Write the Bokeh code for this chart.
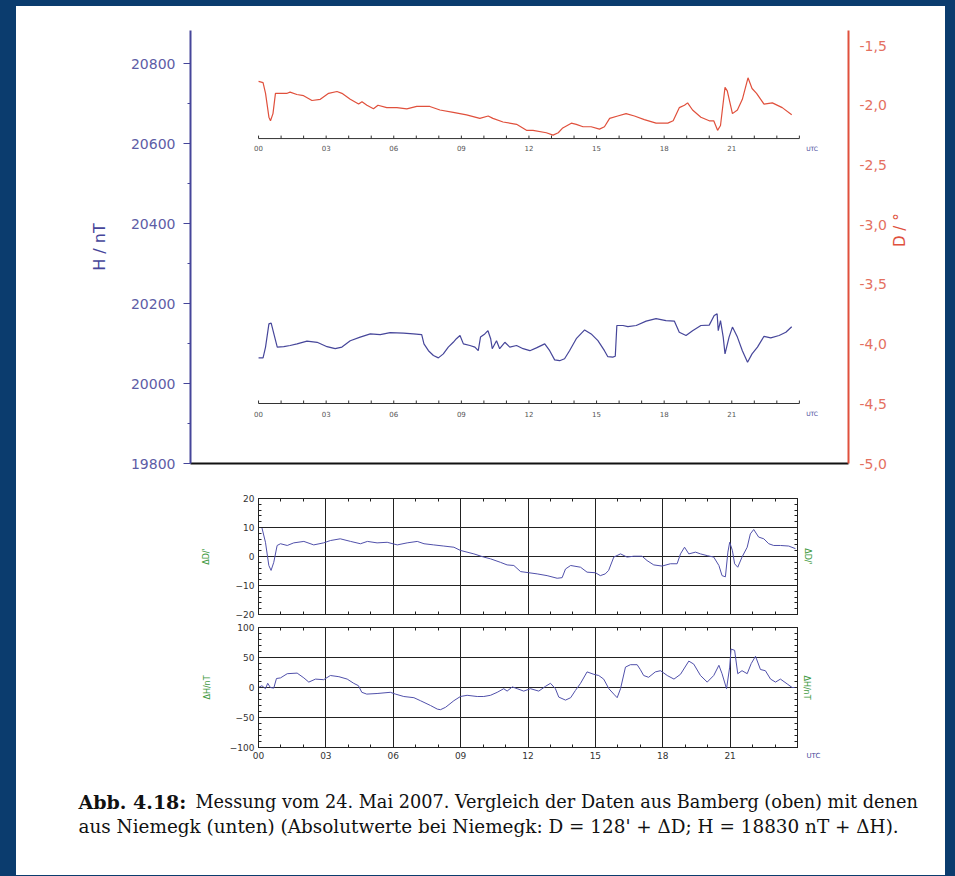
import math
from bokeh.plotting import figure
from bokeh.models import Range1d, LinearAxis, FixedTicker, Spacer
from bokeh.layouts import column, row
from bokeh.embed import file_html
from bokeh.resources import INLINE
from bokeh.core.properties import value

# ---------------- data ----------------
D_HOURS = [0.0, 0.2, 0.31, 0.46, 0.53, 0.64, 0.75, 0.97, 1.27, 1.4, 1.7, 2.0, 2.37, 2.74, 3.11, 3.48, 3.7,
           4.07, 4.44, 4.59, 4.81, 5.1, 5.3, 5.69, 6.14, 6.58, 7.02, 7.6, 8.05, 8.64, 9.23, 9.82, 10.19,
           10.4, 10.85, 11.45, 11.89, 12.18, 12.77, 13.07, 13.3, 13.5, 13.88, 14.1, 14.4, 14.76, 15.13,
           15.35, 15.58, 15.94, 16.31, 16.68, 17.12, 17.64, 18.16, 18.4, 18.67, 18.9, 19.04, 19.26, 19.63,
           20.0, 20.2, 20.37, 20.5, 20.7, 20.8, 21.03, 21.25, 21.47, 21.72, 21.9, 22.1, 22.43, 22.8, 23.24,
           23.66]
D_DEG = [-1.80, -1.81, -1.90, -2.10, -2.13, -2.07, -1.90, -1.90, -1.90, -1.89, -1.91, -1.92, -1.96, -1.95,
         -1.90, -1.885, -1.90, -1.95, -1.99, -1.97, -2.00, -2.03, -2.00, -2.02, -2.02, -2.03, -2.01, -2.01,
         -2.04, -2.06, -2.08, -2.11, -2.09, -2.11, -2.14, -2.16, -2.21, -2.21, -2.23, -2.25, -2.23, -2.19,
         -2.15, -2.16, -2.18, -2.18, -2.20, -2.18, -2.11, -2.09, -2.07, -2.09, -2.12, -2.15, -2.15, -2.13,
         -2.02, -2.00, -1.98, -2.04, -2.10, -2.13, -2.13, -2.21, -2.17, -1.85, -1.88, -2.07, -2.04, -1.95,
         -1.77, -1.86, -1.90, -1.99, -1.98, -2.02, -2.08]

H_HOURS = [0.0, 0.2, 0.31, 0.46, 0.56, 0.68, 0.83, 1.12, 1.4, 1.71, 2.15, 2.6, 3.04, 3.4, 3.7, 4.07, 4.51,
           4.96, 5.4, 5.84, 6.43, 6.87, 7.24, 7.34, 7.54, 7.76, 7.98, 8.2, 8.42, 8.64, 8.78, 8.94, 9.09,
           9.38, 9.6, 9.75, 9.85, 10.04, 10.18, 10.3, 10.37, 10.56, 10.7, 10.93, 11.15, 11.45, 11.74,
           12.04, 12.33, 12.7, 12.92, 13.14, 13.36, 13.58, 13.8, 14.1, 14.47, 14.76, 15.06, 15.35, 15.5,
           15.72, 15.83, 15.9, 16.17, 16.39, 16.76, 17.2, 17.64, 18.08, 18.45, 18.67, 18.97, 19.26, 19.63,
           20.0, 20.22, 20.35, 20.4, 20.5, 20.62, 20.7, 20.88, 21.03, 21.25, 21.47, 21.7, 21.9, 22.14,
           22.43, 22.73, 23.1, 23.4, 23.66]
H_NT = [20064, 20064, 20091, 20149, 20151, 20124, 20091, 20092, 20095, 20099, 20106, 20103, 20092, 20087,
        20091, 20107, 20116, 20124, 20122, 20127, 20126, 20124, 20122, 20099, 20082, 20070, 20064, 20074,
        20091, 20103, 20112, 20120, 20099, 20095, 20091, 20082, 20116, 20124, 20132, 20112, 20087, 20107,
        20087, 20103, 20091, 20095, 20087, 20082, 20089, 20099, 20082, 20059, 20057, 20062, 20082, 20112,
        20134, 20124, 20107, 20082, 20067, 20066, 20068, 20145, 20145, 20142, 20145, 20156, 20162, 20157,
        20156, 20128, 20120, 20132, 20145, 20146, 20170, 20174, 20132, 20157, 20116, 20074, 20116, 20141,
        20116, 20082, 20053, 20074, 20091, 20118, 20114, 20120, 20128, 20142]

DD_HOURS = [0.0, 0.15, 0.31, 0.46, 0.56, 0.68, 0.83, 0.98, 1.28, 1.57, 2.02, 2.46, 2.9, 3.2, 3.64, 4.1,
            4.54, 4.85, 5.28, 5.73, 6.18, 6.62, 7.07, 7.37, 7.8, 8.25, 8.7, 8.99, 9.59, 10.03, 10.33, 10.77,
            11.07, 11.37, 11.67, 12.04, 12.41, 12.85, 13.3, 13.52, 13.67, 13.9, 14.34, 14.63, 15.0, 15.22,
            15.44, 15.59, 15.82, 16.12, 16.41, 16.71, 17.08, 17.3, 17.6, 17.97, 18.34, 18.64, 18.79, 18.97,
            19.16, 19.46, 19.68, 19.98, 20.27, 20.5, 20.64, 20.79, 20.9, 20.98, 21.1, 21.2, 21.34, 21.53,
            21.76, 21.9, 22.05, 22.27, 22.5, 22.72, 22.94, 23.24, 23.61, 23.91]
DD_MIN = [10.0, 10.0, 4.9, -3.1, -4.8, -2.0, 3.8, 4.4, 3.8, 4.7, 5.2, 4.0, 4.7, 5.5, 6.1, 5.2, 4.4, 5.2,
          4.7, 4.9, 4.0, 4.7, 5.2, 4.4, 4.0, 3.6, 3.2, 2.1, 0.9, -0.2, -0.8, -2.0, -2.9, -3.1, -5.2, -5.6,
          -6.0, -6.6, -7.5, -7.3, -4.3, -3.1, -3.7, -5.4, -5.6, -6.6, -6.0, -4.8, -0.2, 0.9, -0.2, 0.1, 0.1,
          -1.4, -2.9, -3.3, -2.5, -2.5, 0.9, 3.2, 0.9, 1.5, 0.9, 0.3, -0.2, -3.1, -6.6, -7.0, 1.5, 4.9, 2.1,
          -2.5, -3.7, -0.2, 3.2, 7.8, 9.3, 6.7, 6.1, 4.4, 3.8, 3.8, 3.6, 2.7]

DH_HOURS = [0.0, 0.15, 0.31, 0.41, 0.53, 0.68, 0.8, 0.98, 1.28, 1.72, 2.02, 2.24, 2.54, 2.9, 3.2, 3.58,
            3.95, 4.24, 4.45, 4.6, 4.82, 5.28, 5.87, 6.1, 6.47, 6.92, 7.21, 7.66, 7.96, 8.1, 8.33, 8.7, 8.99,
            9.29, 9.74, 10.03, 10.33, 10.63, 10.92, 11.07, 11.3, 11.52, 11.81, 12.11, 12.48, 12.78, 13.0,
            13.22, 13.37, 13.67, 13.9, 14.11, 14.34, 14.63, 14.93, 15.15, 15.37, 15.6, 15.82, 15.97, 16.12,
            16.34, 16.56, 16.86, 17.0, 17.15, 17.37, 17.67, 17.9, 18.2, 18.5, 18.79, 19.16, 19.38, 19.68,
            19.98, 20.27, 20.5, 20.64, 20.84, 20.98, 21.04, 21.2, 21.34, 21.53, 21.76, 21.94, 22.13, 22.35,
            22.57, 22.8, 23.02, 23.24, 23.54, 23.76, 23.99]
DH_NT = [0, 3, -2, 7, 0, -1, 15, 16, 23, 24, 16, 9, 14, 13, 20, 18, 14, 7, 3, -8, -11, -10, -8, -11, -15,
         -17, -22, -30, -36, -37, -33, -22, -15, -13, -15, -15, -13, -8, -2, -6, 1, -2, -6, -2, -6, 2, 7,
         -2, -16, -21, -17, -5, 7, 26, 22, 20, 14, -2, -11, -17, -2, 34, 38, 38, 30, 20, 17, 26, 28, 20, 14,
         22, 44, 39, 20, 9, 20, 37, 23, -2, 34, 64, 62, 23, 28, 23, 40, 52, 30, 28, 14, 9, 14, 6, 0, 0]

H_TICKS = [19800, 20000, 20200, 20400, 20600, 20800]
H_MINOR = [19900, 20100, 20300, 20500, 20700]
D_TICKS = [-5.0, -4.5, -4.0, -3.5, -3.0, -2.5, -2.0, -1.5]
D_LABELS = ["-5,0", "-4,5", "-4,0", "-3,5", "-3,0", "-2,5", "-2,0", "-1,5"]
HOUR_TICKS = [0, 3, 6, 9, 12, 15, 18, 21]
HOUR_LABELS = ["00", "03", "06", "09", "12", "15", "18", "21"]
ALL_HOURS = list(range(25))
DD_TICKS = [-20, -10, 0, 10, 20]
DD_LABELS = ["\u221220", "\u221210", "0", "10", "20"]
DD_MINOR = [-18, -16, -14, -12, -8, -6, -4, -2, 2, 4, 6, 8, 12, 14, 16, 18]
DH_TICKS = [-100, -50, 0, 50, 100]
DH_LABELS = ["\u2212100", "\u221250", "0", "50", "100"]
DH_MINOR = [-90, -80, -70, -60, -40, -30, -20, -10, 10, 20, 30, 40, 60, 70, 80, 90]

CAPTION_BOLD = "Abb. 4.18:"
CAPTION_1 = "Messung vom 24. Mai 2007. Vergleich der Daten aus Bamberg (oben) mit denen"
CAPTION_2 = "aus Niemegk (unten) (Absolutwerte bei Niemegk: D = 128' + \u0394D; H = 18830 nT + \u0394H)."

# ---------------- styles ----------------
SANS = "DejaVu Sans"
SERIF = "DejaVu Serif"
H_COL = "#46469a"
H_LAB = "#5d5da6"
D_COL = "#e0503c"
D_LAB = "#e4705f"
P_COL = "#5050aa"
GREEN = "#3f9a3f"
INK = "#222222"
W = 929

COMMON = dict(output_backend="svg", toolbar_location=None, background_fill_color="white",
              border_fill_color="white")

# ---------------- top chart ----------------
top = figure(width=W, height=479, x_range=Range1d(-3.02, 26.18), y_range=Range1d(19800, 20882.5),
             min_border_left=174, min_border_right=97, min_border_top=24, min_border_bottom=22,
             outline_line_color=None, **COMMON)
top.frame_align = False
top.grid.visible = False
top.extra_y_ranges = {"D": Range1d(-5.0, -1.374)}

xa = top.xaxis[0]
xa.ticker = FixedTicker(ticks=[])
xa.axis_line_color = "#111111"
xa.axis_line_width = 2
xa.major_tick_line_color = None
xa.minor_tick_line_color = None

ya = top.yaxis[0]
ya.ticker = FixedTicker(ticks=H_TICKS, minor_ticks=H_MINOR)
ya.axis_line_color = H_COL
ya.axis_line_width = 2
ya.major_tick_line_color = H_COL
ya.minor_tick_line_color = H_COL
ya.major_tick_out = 7
ya.major_tick_in = 0
ya.minor_tick_out = 3
ya.minor_tick_in = 0
ya.major_label_standoff = 8
ya.major_label_text_font = SANS
ya.major_label_text_font_size = "14px"
ya.major_label_text_color = H_LAB
ya.axis_label = "H / nT"
ya.axis_label_text_font = SANS
ya.axis_label_text_font_size = "16px"
ya.axis_label_text_font_style = "normal"
ya.axis_label_text_color = H_COL
ya.axis_label_standoff = 19

ra = LinearAxis(y_range_name="D", ticker=FixedTicker(ticks=D_TICKS),
                major_label_overrides=dict(zip(D_TICKS, D_LABELS)))
ra.axis_line_color = D_COL
ra.axis_line_width = 2
ra.major_tick_line_color = None
ra.minor_tick_line_color = None
ra.major_label_standoff = 5
ra.major_label_text_font = SANS
ra.major_label_text_font_size = "14px"
ra.major_label_text_color = D_LAB
ra.axis_label = "D / \u00b0"
ra.axis_label_text_font = SANS
ra.axis_label_text_font_size = "15px"
ra.axis_label_text_font_style = "normal"
ra.axis_label_text_color = D_COL
ra.axis_label_standoff = 10
if "axis_label_orientation" in ra.properties():
    ra.axis_label_orientation = math.pi / 2
top.add_layout(ra, "right")

top.line(H_HOURS, H_NT, line_color=H_COL, line_width=1.2)
top.line(D_HOURS, D_DEG, y_range_name="D", line_color=D_COL, line_width=1.2)

# inner time axes (decoration)
D_AXIS, D_TICK, D_TXT = -2.279, 0.025, -2.362
H_AXIS, H_TICK, H_TXT = 19950, 7.5, 19925
for rng, ax_y, tk, ty in (("D", D_AXIS, D_TICK, D_TXT), ("default", H_AXIS, H_TICK, H_TXT)):
    top.segment(x0=[0], y0=[ax_y], x1=[24], y1=[ax_y], y_range_name=rng, line_color="#333333", line_width=1)
    top.segment(x0=ALL_HOURS, y0=[ax_y] * len(ALL_HOURS), x1=ALL_HOURS, y1=[ax_y + tk] * len(ALL_HOURS),
                y_range_name=rng, line_color="#333333", line_width=1)
    top.text(x=HOUR_TICKS, y=[ty] * len(HOUR_TICKS), text=HOUR_LABELS, y_range_name=rng,
             text_font=value(SANS), text_font_size="7px", text_color="#555555",
             text_align="center", text_baseline="middle")
    top.text(x=[24.3], y=[ty], text=["UTC"], y_range_name=rng, text_font=value(SANS),
             text_font_size="6px", text_color=H_COL, text_align="left", text_baseline="middle")


# ---------------- lower panels ----------------
def style_panel(p, yticks, ylabels, yminor, ygrid, ylabel, bottom_labels, label_standoff, right_label):
    p.frame_align = False
    p.xgrid.ticker = FixedTicker(ticks=HOUR_TICKS[1:])
    p.ygrid.ticker = FixedTicker(ticks=ygrid)
    p.grid.grid_line_color = INK
    p.grid.grid_line_width = 1
    p.grid.grid_line_alpha = 1.0

    ax = p.xaxis[0]
    if bottom_labels:
        ax.ticker = FixedTicker(ticks=HOUR_TICKS, minor_ticks=ALL_HOURS)
        ax.major_label_overrides = dict(zip(HOUR_TICKS, HOUR_LABELS))
        ax.major_label_text_font = SANS
        ax.major_label_text_font_size = "9px"
        ax.major_label_text_color = "#333333"
        ax.major_label_standoff = 4
    else:
        ax.ticker = FixedTicker(ticks=[], minor_ticks=ALL_HOURS)
    ax.axis_line_color = INK
    ax.major_tick_in = 3
    ax.major_tick_out = 0
    ax.minor_tick_in = 3
    ax.minor_tick_out = 0
    ax.major_tick_line_color = INK
    ax.minor_tick_line_color = INK

    above = LinearAxis(ticker=FixedTicker(ticks=[], minor_ticks=ALL_HOURS), minor_tick_in=3,
                       minor_tick_out=0, axis_line_color=INK, minor_tick_line_color=INK)
    p.add_layout(above, "above")

    la = p.yaxis[0]
    la.ticker = FixedTicker(ticks=yticks, minor_ticks=yminor)
    la.major_label_overrides = dict(zip(yticks, ylabels))
    la.major_label_text_font = SANS
    la.major_label_text_font_size = "9px"
    la.major_label_text_color = "#333333"
    la.major_label_standoff = 4
    la.axis_label_standoff = label_standoff
    rax = LinearAxis(ticker=FixedTicker(ticks=[], minor_ticks=yticks + yminor))
    rax.axis_label_standoff = 5
    for a in (la, rax):
        a.axis_line_color = INK
        a.major_tick_line_color = INK
        a.minor_tick_line_color = INK
        a.major_tick_in = 5
        a.major_tick_out = 0
        a.minor_tick_in = 3
        a.minor_tick_out = 0
        a.axis_label_text_font = SANS
        a.axis_label_text_font_size = "8px"
        a.axis_label_text_font_style = "normal"
        a.axis_label_text_color = GREEN
    la.axis_label = ylabel
    if right_label:
        rax.axis_label = ylabel
    p.add_layout(rax, "right")


pB = figure(width=W, height=136, x_range=Range1d(0, 24), y_range=Range1d(-20, 20),
            min_border_left=242, min_border_right=148, min_border_top=13, min_border_bottom=7,
            outline_line_color=INK, **COMMON)
style_panel(pB, DD_TICKS, DD_LABELS, DD_MINOR, [-10, 0, 10], "\u0394D/'", False, 22, True)
pB.line(DD_HOURS, DD_MIN, line_color=P_COL, line_width=1)

PC_W = 784
pC = figure(width=PC_W, height=154, x_range=Range1d(0, 24), y_range=Range1d(-100, 100),
            min_border_left=242, min_border_right=3, min_border_top=6, min_border_bottom=28,
            outline_line_color=INK, **COMMON)
style_panel(pC, DH_TICKS, DH_LABELS, DH_MINOR, [-50, 0, 50], "\u0394H/nT", True, 15, False)
pC.line(DH_HOURS, DH_NT, line_color=P_COL, line_width=1)

# strip to the right of panel C: right axis title and "UTC"
SIDE_W = W - PC_W
side = figure(width=SIDE_W, height=154, x_range=Range1d(0, SIDE_W), y_range=Range1d(0, 154),
              min_border=0, x_axis_location=None, y_axis_location=None, outline_line_color=None, **COMMON)
side.frame_align = False
side.grid.visible = False
side.text(x=[6], y=[88], text=["\u0394H/nT"], angle=-math.pi / 2, text_font=value(SANS),
          text_font_size="8px", text_color=GREEN, text_align="center", text_baseline="middle")
side.text(x=[6], y=[20], text=["UTC"], text_font=value(SANS),
          text_font_size="7px", text_color=H_COL, text_align="left", text_baseline="middle")

# ---------------- caption ----------------
CAP_H = 100
cap = figure(width=W, height=CAP_H, x_range=Range1d(0, W), y_range=Range1d(0, CAP_H),
             min_border=0, x_axis_location=None, y_axis_location=None,
             outline_line_color=None, **COMMON)
cap.frame_align = False
cap.grid.visible = False
cap.text(x=[62], y=[CAP_H - 26], text=[CAPTION_BOLD], text_font=value(SERIF), text_font_style="bold",
         text_font_size="19px", text_color="#111111", text_baseline="alphabetic", text_align="left")
cap.text(x=[179], y=[CAP_H - 26], text=[CAPTION_1], text_font=value(SERIF),
         text_font_size="17.7px", text_color="#111111", text_baseline="alphabetic", text_align="left")
cap.text(x=[62], y=[CAP_H - 51], text=[CAPTION_2], text_font=value(SERIF),
         text_font_size="18.4px", text_color="#111111", text_baseline="alphabetic", text_align="left")

body = column(top, pB, row(pC, side), cap, styles={"background-color": "white"})
p = row(Spacer(width=16, height=10), column(Spacer(width=10, height=6), body))

PAGE = "{% block preamble %}<style>html, body { background-color: #0b3c6e; }</style>{% endblock %}"
open("out.html", "w").write(file_html(p, INLINE, template=PAGE))
